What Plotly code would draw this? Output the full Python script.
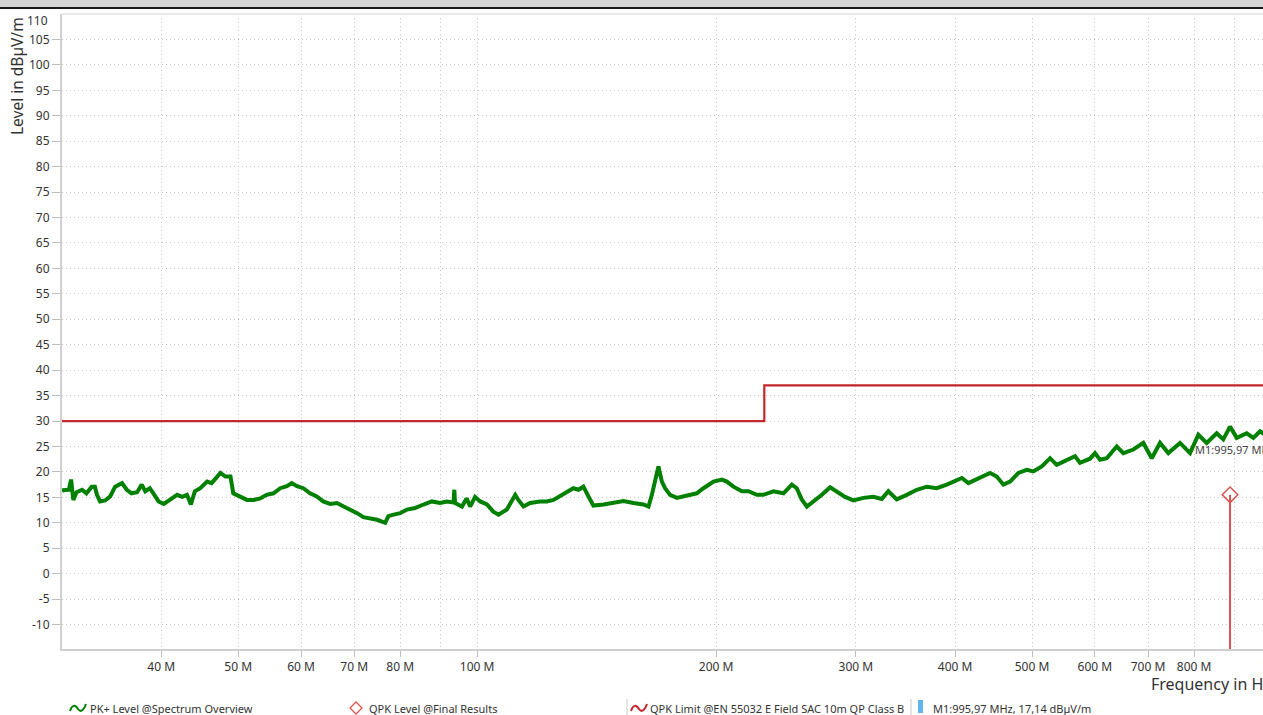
import plotly.graph_objects as go

# ---------------- data ----------------
pk_freq_mhz = [
    30.0, 30.1, 30.6, 30.8, 31.0, 31.3, 31.8, 32.2, 32.7, 33.0, 33.2, 33.5, 34.0, 34.5, 35.0,
    35.7, 36.2, 36.7, 37.3, 37.8, 38.2, 38.7, 39.1, 39.7, 40.3, 41.1, 41.9, 42.5, 43.1, 43.6,
    44.1, 44.8, 45.7, 46.3, 47.0, 47.5, 48.2, 48.9, 49.3, 50.3, 51.3, 52.3, 53.3, 54.3, 55.4,
    56.5, 57.6, 58.4, 59.3, 60.4, 61.6, 62.8, 64.0, 65.3, 66.6, 67.9, 69.2, 70.6, 71.9, 73.0,
    74.8, 76.6, 77.3, 78.5, 80.0, 81.6, 83.5, 85.6, 87.7, 89.8, 91.6, 93.4, 93.6, 93.8, 95.7,
    97.0, 98.0, 99.4, 100.9, 102.9, 104.8, 106.4, 109.0, 111.7, 112.7, 114.4, 116.6, 120.0,
    122.4, 124.8, 127.2, 129.7, 132.2, 134.2, 136.1, 138.1, 140.1, 144.3, 148.5, 152.9, 157.4,
    162.0, 164.4, 166.0, 169.2, 170.9, 172.5, 175.0, 178.5, 183.7, 189.1, 192.8, 198.5, 203.4,
    206.3, 210.3, 215.5, 219.7, 225.1, 229.4, 236.2, 243.2, 249.1, 252.7, 256.4, 260.2, 265.3,
    271.8, 278.4, 283.8, 290.7, 297.8, 306.6, 315.6, 323.4, 329.6, 337.7, 347.7, 357.9, 368.5,
    379.3, 390.5, 398.0, 407.9, 415.7, 430.0, 442.7, 451.4, 460.2, 469.2, 480.6, 492.4, 501.9,
    514.3, 526.9, 537.1, 552.9, 566.3, 574.6, 591.6, 600.2, 609.0, 621.0, 639.3, 651.6, 670.8,
    690.5, 707.6, 724.8, 742.5, 768.0, 790.7, 810.0, 829.9, 854.3, 870.8, 888.0, 905.4, 932.0,
    950.0, 968.6, 990.0, 1000.0,
]
pk_level_db = [
    16.2, 16.4, 16.5, 18.5, 14.5, 16.0, 16.5, 15.8, 17.1, 17.1, 15.5, 14.2, 14.4, 15.2, 17.1,
    17.8, 16.5, 15.8, 16.0, 17.5, 16.2, 16.8, 15.8, 14.2, 13.7, 14.5, 15.5, 15.1, 15.5, 13.6,
    16.2, 16.8, 18.1, 17.8, 19.1, 19.8, 19.1, 19.1, 15.8, 15.1, 14.5, 14.5, 14.8, 15.5, 15.8,
    16.8, 17.2, 17.8, 17.2, 16.8, 15.8, 15.2, 14.2, 13.7, 13.9, 13.2, 12.6, 11.9, 11.1, 10.9,
    10.6, 10.0, 11.3, 11.6, 11.9, 12.6, 12.9, 13.6, 14.2, 13.9, 14.2, 14.0, 16.5, 13.9, 13.2,
    14.8, 13.2, 15.1, 14.2, 13.6, 12.2, 11.6, 12.6, 15.5, 14.5, 13.2, 13.9, 14.2,
    14.2, 14.5, 15.3, 16.2, 16.8, 16.5, 17.1, 15.2, 13.4, 13.6, 13.9, 14.3, 13.9,
    13.6, 13.2, 15.5, 21.1, 18.1, 16.8, 15.5, 14.9, 15.3, 15.8, 16.8, 18.1, 18.5,
    18.1, 17.1, 16.2, 16.2, 15.5, 15.5, 16.2, 15.8, 17.5, 16.8, 14.6, 13.2, 14.2,
    15.5, 17.0, 16.2, 15.1, 14.4, 14.9, 15.1, 14.7, 16.2, 14.6, 15.5, 16.5, 17.1,
    16.8, 17.5, 18.1, 18.8, 17.8, 18.8, 19.8, 19.1, 17.5, 18.1, 19.8, 20.4, 20.1,
    21.1, 22.7, 21.4, 22.4, 23.1, 21.8, 22.6, 23.7, 22.4, 22.7, 25.0, 23.7, 24.4,
    25.7, 22.7, 25.7, 23.7, 25.7, 23.7, 27.3, 25.7, 27.6, 26.4, 28.9, 26.7, 27.6,
    26.7, 28.0, 27.0, 27.2,
]

limit_freq_mhz = [30.0, 230.0, 230.0, 1000.0]
limit_level_db = [30.0, 30.0, 37.0, 37.0]

qpk_freq_mhz = [888.0, 995.97]
qpk_level_db = [15.5, 17.14]

x_tick_vals = [40, 50, 60, 70, 80, 100, 200, 300, 400, 500, 600, 700, 800]
x_tick_text = ["40 M", "50 M", "60 M", "70 M", "80 M", "100 M", "200 M", "300 M",
               "400 M", "500 M", "600 M", "700 M", "800 M"]
x_minor_vals = [90, 900]
y_tick_vals = list(range(-10, 106, 5))
y_tick_text = [str(v) for v in y_tick_vals]

x_title = "Frequency in Hz"
y_title = "Level in dBµV/m"
legend_pk = "PK+ Level @Spectrum Overview"
legend_qpk = "QPK Level @Final Results"
legend_limit = "QPK Limit @EN 55032 E Field SAC 10m QP Class B"
legend_marker = "M1:995,97 MHz, 17,14 dBµV/m"
marker_label = "M1:995,97 MHz"

# ---------------- layout helpers ----------------
W, H = 1263, 715
L, T, B = 62, 14, 66
PW = W - L
PH = H - T - B
Y_MIN, Y_MAX = -14.8, 110.0
X_LOG_MIN = 1.4771
X_LOG_MAX = 2.98992


def px(x):
    return (x - L) / PW


def py(y):
    return (H - B - y) / PH


FONT = "Noto Sans"
GREEN = "#008000"
LIMIT_RED = "#c4262c"
QPK_RED = "#d9534f"
GRID = "#c8c8c8"
GRID_DASH = "1px,3px"

fig = go.Figure()

fig.add_trace(go.Scatter(
    x=limit_freq_mhz, y=limit_level_db, mode="lines",
    line=dict(color=LIMIT_RED, width=2.2), hoverinfo="skip", showlegend=False,
))

fig.add_trace(go.Scatter(
    x=pk_freq_mhz, y=pk_level_db, mode="lines",
    line=dict(color=GREEN, width=4), showlegend=False,
))

# stems for QPK results
stem_x, stem_y = [], []
for f, v in zip(qpk_freq_mhz, qpk_level_db):
    stem_x += [f, f, None]
    stem_y += [v, Y_MIN, None]
fig.add_trace(go.Scatter(
    x=stem_x, y=stem_y, mode="lines",
    line=dict(color=QPK_RED, width=2), hoverinfo="skip", showlegend=False,
))
fig.add_trace(go.Scatter(
    x=qpk_freq_mhz, y=qpk_level_db, mode="markers",
    marker=dict(symbol="diamond-open", size=12, color=QPK_RED, line=dict(width=1.5, color=QPK_RED)),
    showlegend=False, cliponaxis=False,
))

axis_font = dict(family=FONT, size=12, color="#333333")

fig.update_layout(
    width=W, height=H,
    margin=dict(l=L, r=0, t=T, b=B, pad=0),
    paper_bgcolor="white", plot_bgcolor="white",
    showlegend=False,
    font=dict(family=FONT, size=12, color="#333333"),
    xaxis=dict(
        type="log", range=[X_LOG_MIN, X_LOG_MAX], automargin=False,
        tickmode="array", tickvals=x_tick_vals, ticktext=x_tick_text,
        ticks="outside", ticklen=6, tickcolor="#bdbdbd", tickwidth=1,
        tickfont=axis_font, tickangle=0,
        showgrid=True, gridcolor=GRID, griddash=GRID_DASH, gridwidth=1,
        minor=dict(tickmode="array", tickvals=x_minor_vals, showgrid=True,
                   gridcolor=GRID, griddash=GRID_DASH, gridwidth=1, ticks=""),
        showline=True, linecolor="#d0d0d0", linewidth=2, mirror=False,
        zeroline=False,
    ),
    yaxis=dict(
        range=[Y_MIN, Y_MAX], automargin=False,
        tickmode="array", tickvals=y_tick_vals, ticktext=y_tick_text,
        ticks="outside", ticklen=8, tickcolor="#bdbdbd", tickwidth=1,
        tickfont=axis_font,
        showgrid=True, gridcolor=GRID, griddash=GRID_DASH, gridwidth=1,
        showline=True, linecolor="#d0d0d0", linewidth=2, mirror=False,
        zeroline=False,
    ),
)

shapes = []
# top title bar (cut off) and separator line
shapes.append(dict(type="rect", xref="paper", yref="paper",
                   x0=px(0), x1=px(W), y0=py(-2), y1=py(7),
                   fillcolor="#d6d6d6", line=dict(width=0), layer="above"))
shapes.append(dict(type="line", xref="paper", yref="paper",
                   x0=px(0), x1=px(W), y0=py(8), y1=py(8),
                   line=dict(color="#1a1a1a", width=2), layer="above"))
# top border of plot
shapes.append(dict(type="line", xref="paper", yref="paper",
                   x0=0, x1=1, y0=1, y1=1, line=dict(color="#e3e3e3", width=1.5)))


def squiggle(x0, yc):
    pts = [(x0, yc + 3), (x0 + 2, yc - 3), (x0 + 5, yc - 4), (x0 + 8, yc + 1),
           (x0 + 11, yc + 5), (x0 + 14, yc + 2), (x0 + 16, yc - 4)]
    d = "M {} {}".format(px(pts[0][0]), py(pts[0][1]))
    d += " C {} {}, {} {}, {} {}".format(px(pts[1][0]), py(pts[1][1]), px(pts[2][0]), py(pts[2][1]),
                                        px(pts[3][0]), py(pts[3][1]))
    d += " C {} {}, {} {}, {} {}".format(px(pts[4][0]), py(pts[4][1]), px(pts[5][0]), py(pts[5][1]),
                                        px(pts[6][0]), py(pts[6][1]))
    return d


LEG_Y = 708
shapes.append(dict(type="path", xref="paper", yref="paper", path=squiggle(70, LEG_Y),
                   line=dict(color=GREEN, width=2)))
shapes.append(dict(type="path", xref="paper", yref="paper",
                   path="M {} {} L {} {} L {} {} L {} {} Z".format(
                       px(356), py(702), px(362), py(708), px(356), py(714), px(350), py(708)),
                   line=dict(color=QPK_RED, width=1.3)))
shapes.append(dict(type="line", xref="paper", yref="paper",
                   x0=px(627), x1=px(627), y0=py(699), y1=py(716),
                   line=dict(color="#c8c8c8", width=1)))
shapes.append(dict(type="path", xref="paper", yref="paper", path=squiggle(631, LEG_Y),
                   line=dict(color=LIMIT_RED, width=2)))
shapes.append(dict(type="line", xref="paper", yref="paper",
                   x0=px(911), x1=px(911), y0=py(699), y1=py(716),
                   line=dict(color="#c8c8c8", width=1)))
shapes.append(dict(type="rect", xref="paper", yref="paper",
                   x0=px(918), x1=px(923), y0=py(700), y1=py(713),
                   fillcolor="#62b4ee", line=dict(width=0)))
fig.update_layout(shapes=shapes)

ann = []
txt_font = dict(family=FONT, size=11, color="#333333")
for x0, t in [(88, legend_pk), (367, legend_qpk), (648, legend_limit), (931, legend_marker)]:
    ann.append(dict(xref="paper", yref="paper", x=px(x0), y=py(LEG_Y), text=t,
                    xanchor="left", yanchor="middle", showarrow=False, font=txt_font))
# axis titles
ann.append(dict(xref="paper", yref="paper", x=px(1149), y=py(684), text=x_title,
                xanchor="left", yanchor="middle", showarrow=False,
                font=dict(family=FONT, size=16, color="#333333")))
ann.append(dict(xref="paper", yref="paper", x=px(17), y=py(76), text=y_title, textangle=-90,
                xanchor="center", yanchor="middle", showarrow=False,
                font=dict(family=FONT, size=15.5, color="#333333")))
# top y label and cut-off 1 G label
ann.append(dict(xref="paper", yref="paper", x=px(50), y=py(21), text="110",
                xanchor="right", yanchor="middle", showarrow=False, font=axis_font))
ann.append(dict(xref="paper", yref="paper", x=px(1271), y=py(664), text="1 G",
                xanchor="center", yanchor="middle", showarrow=False, font=axis_font))
# marker label
ann.append(dict(xref="paper", yref="paper", x=px(1193), y=py(449), text=marker_label,
                xanchor="left", yanchor="middle", showarrow=False,
                font=dict(family=FONT, size=11, color="#444444")))
fig.update_layout(annotations=ann)

fig.write_html("out.html", config={"displayModeBar": False},
               post_script="document.body.style.margin='0px';document.body.style.overflow='hidden';")
